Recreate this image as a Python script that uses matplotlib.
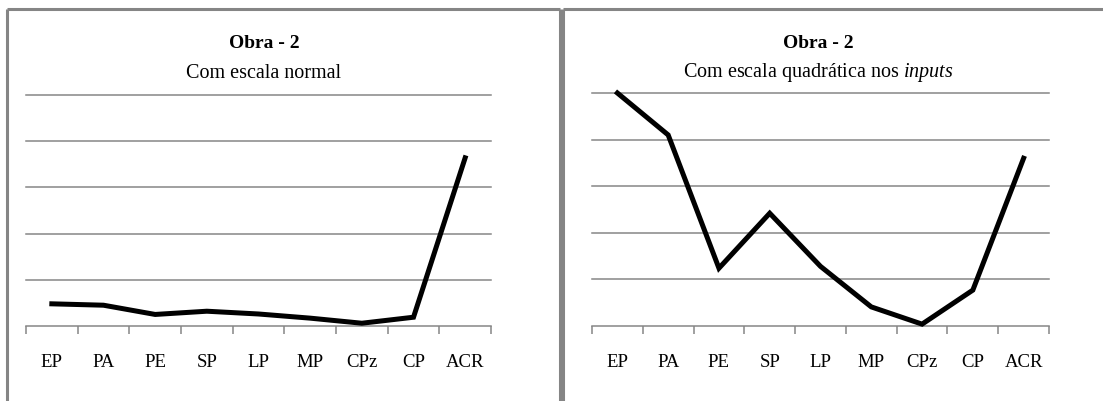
import matplotlib
matplotlib.use("Agg")
import matplotlib.pyplot as plt
from matplotlib.lines import Line2D
import numpy as np

plt.rcParams['font.family'] = ['Liberation Serif', 'DejaVu Serif']
plt.rcParams['mathtext.fontset'] = 'custom'
plt.rcParams['mathtext.rm'] = 'Liberation Serif'
plt.rcParams['mathtext.it'] = 'Liberation Serif:italic'

categories = ["EP", "PA", "PE", "SP", "LP", "MP", "CPz", "CP", "ACR"]
normal_values = [0.48, 0.45, 0.25, 0.32, 0.26, 0.17, 0.06, 0.19, 3.64]
quadratic_values = [5.0, 4.1, 1.24, 2.42, 1.28, 0.41, 0.04, 0.77, 3.6]

titles = ["Obra - 2", "Obra - 2"]
subtitles = ["Com escala normal", "Com escala quadrática nos $\\mathit{inputs}$"]

W, H = 1103, 401
fig = plt.figure(figsize=(W / 100, H / 100), dpi=100)

def px_axes(x0, x1, ytop, ybot):
    return fig.add_axes([x0 / W, 1 - ybot / H, (x1 - x0) / W, (ybot - ytop) / H])

grid_c = "#868686"
panels = [
    (px_axes(26, 491, 95, 326), normal_values, 264),
    (px_axes(592, 1049, 93, 326), quadratic_values, 818),
]

for i, (ax, vals, cx) in enumerate(panels):
    n = len(categories)
    x = np.arange(n) + 0.5
    ax.set_xlim(0, n)
    ax.set_ylim(0, 5)
    for g in range(1, 6):
        ax.axhline(g, color=grid_c, lw=1.1, zorder=1, clip_on=False)
    ax.plot(x, vals, color="black", lw=3.6, solid_joinstyle="miter",
            zorder=3, clip_on=False)
    for s in ["top", "right", "left"]:
        ax.spines[s].set_visible(False)
    ax.spines["bottom"].set_color(grid_c)
    ax.spines["bottom"].set_linewidth(1.1)
    ax.set_yticks([])
    ax.set_xticks(np.arange(n + 1))
    ax.set_xticklabels([])
    ax.set_xticks(x, minor=True)
    ax.set_xticklabels(categories, minor=True, fontsize=13.5)
    ax.tick_params(axis="x", which="major", length=5.5, width=1.1, color=grid_c, direction="out")
    ax.tick_params(axis="x", which="minor", length=0, pad=20)
    ax.patch.set_alpha(0)
    fig.text(cx / W, 1 - 43 / H, titles[i], ha="center", va="center",
             fontsize=14, fontweight="bold")
    fig.text(cx / W, 1 - 73 / H, subtitles[i], ha="center", va="center",
             fontsize=14.5)

# panel frames
fc = "#858585"
lw = 2.2
def fline(xs, ys):
    fig.add_artist(Line2D([v / W for v in xs], [1 - v / H for v in ys],
                          color=fc, lw=lw, solid_capstyle="butt"))
fline([7, 7], [9, H])
fline([7, 560], [9, 9])
fline([560, 560], [9, H])
fline([563, 563], [9, H])
fline([563, W], [9, 9])

fig.savefig("out.png", dpi=100)
